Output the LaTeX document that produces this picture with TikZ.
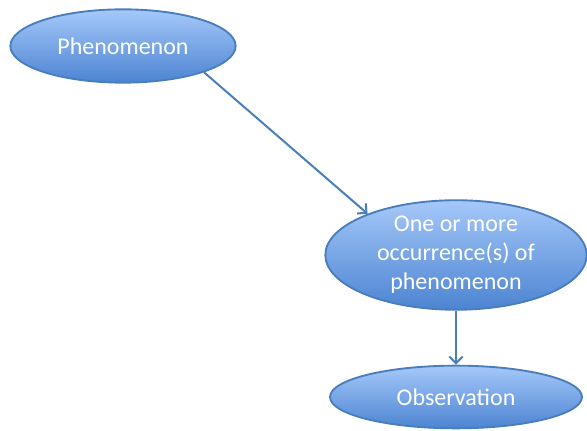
\documentclass[tikz,border=0pt]{standalone}
\usepackage{fontspec}
\setmainfont{Carlito}
\usetikzlibrary{shapes.geometric, arrows.meta}
\definecolor{edgeblue}{HTML}{4A7EBB}
\definecolor{toplight}{HTML}{A5C8F9}
\definecolor{botdark}{HTML}{4C84D2}

\begin{document}
\begin{tikzpicture}[x=.75pt, y=-.75pt,
  bubble/.style={ellipse, draw=edgeblue, line width=1.4pt, top color=toplight, bottom color=botdark,
    text=white, font=\fontsize{18}{21.75}\selectfont, align=center, inner sep=0pt},
  link/.style={-{Straight Barb[length=5pt, width=10pt]}, draw=edgeblue, line width=1.5pt}]
\useasboundingbox (0,0) rectangle (587,431);
\coordinate (P) at (123,46);
\coordinate (O) at (456,255);
\coordinate (Ob) at (456,397);
\node at (P) [name=phen, bubble, minimum width=169pt, minimum height=55pt] {Phenomenon};
\node at (O) [name=occ, bubble, minimum width=196pt, minimum height=80pt] {One or more\\occurrence(s) of\\phenomenon};
\node at (Ob) [name=obs, bubble, minimum width=189pt, minimum height=47pt] {Observation};
\draw [link] (phen.-18) -- (occ.155);
\draw [link] (occ.south) -- (obs.north);
\end{tikzpicture}
\end{document}
